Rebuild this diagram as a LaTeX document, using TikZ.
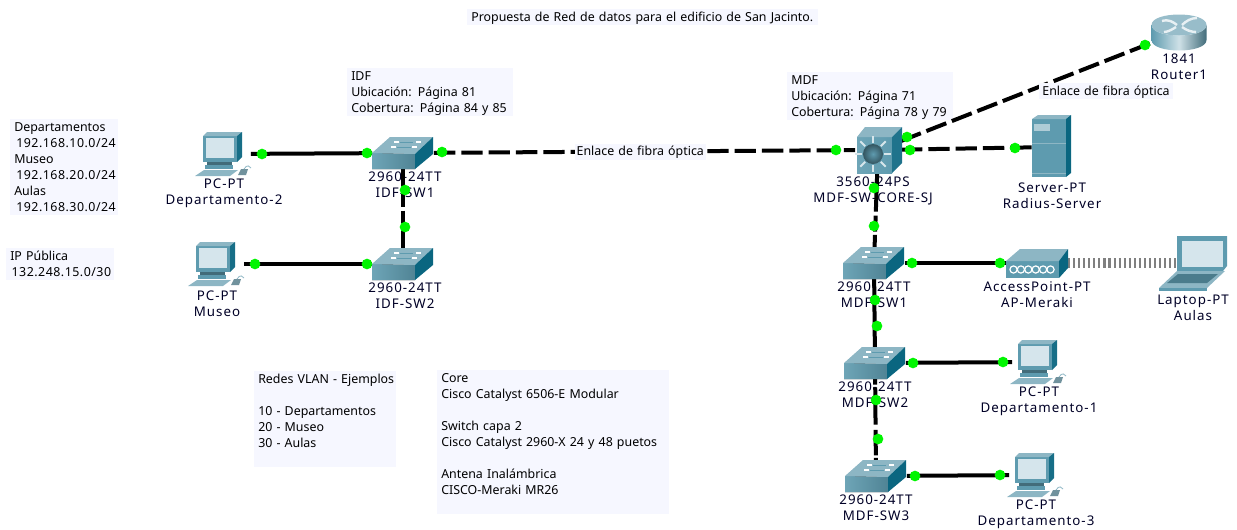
\documentclass[tikz,border=0pt]{standalone}
\usepackage{fontspec}
\setmainfont{Noto Sans}
\newfontfamily\labelfont[LetterSpace=7.5]{Noto Sans}
\newfontfamily\ipfont[LetterSpace=4]{Noto Sans}
\usepackage{xcolor}
\usetikzlibrary{positioning}
\definecolor{notebg}{HTML}{F6F7FF}
\definecolor{teallight}{HTML}{8DB6C4}
\definecolor{tealmid}{HTML}{5E9BAF}
\definecolor{tealdark}{HTML}{0A6680}
\definecolor{screenbg}{HTML}{D5E5EC}
\definecolor{linkgreen}{HTML}{00F500}
\newcommand{\notestrut}{\rule[-2.85pt]{0pt}{12pt}}

\begin{document}
\begin{tikzpicture}[x=0.75pt,y=-0.75pt,
    note/.style={fill=notebg, anchor=north west, align=left, inner xsep=3pt, inner ysep=0pt,
      text width=#1, font=\fontsize{9.3}{12}\selectfont,
      execute at begin node=\notestrut, execute at end node=\notestrut},
    devbox/.style={inner sep=0pt, minimum width=#1, minimum height=22pt},
    swbox/.style={devbox=46pt},
    pcbox/.style={devbox=40pt, minimum height=33pt},
    devlabel/.style={align=center, inner sep=0pt, text=black!85!blue,
      font={\labelfont\fontsize{10}{12}\selectfont}},
    link/.style={line width=3pt, black},
    fibre/.style={link, dash pattern=on 16pt off 4.5pt},
    cross/.style={link, dash pattern=on 29pt off 3pt on 12pt off 2.5pt on 30pt},
    wifi/.style={line width=7.5pt, black!50, dash pattern=on 1.6pt off 2.2pt},
    dot/.style={circle, fill=linkgreen, inner sep=0pt, minimum size=8pt},
    swicon/.pic={
      \fill[left color=tealmid!90!white, right color=tealmid!85!black] (-31,0) -- (12,1) -- (12,16) -- (-31,16) -- cycle;
      \fill[teallight] (-31,0) -- (-13,-16) -- (30,-16) -- (12,1) -- cycle;
      \fill[tealdark] (12,1) -- (30,-16) -- (30,1) -- (12,16) -- cycle;
      \draw[white, line width=1pt] (-9,-11) -- (-4,-11) (13,-11) -- (18,-11) (-12,-6) -- (-7,-6) (9,-6) -- (14,-6);
      \draw[tealmid, line width=.6pt] (-3,-11) -- (10,-11) (-6,-6) -- (8,-6);
    },
    coreicon/.pic={
      \fill[left color=tealmid!90!white, right color=tealmid] (-21,-13) -- (14,-13) -- (14,23) -- (-21,23) -- cycle;
      \fill[teallight] (-21,-13) -- (-13,-23) -- (24,-23) -- (14,-13) -- cycle;
      \fill[tealdark!75!tealmid] (14,-13) -- (24,-23) -- (24,13) -- (14,23) -- cycle;
      \foreach \a in {0,45,...,315}
        \draw[white!75!tealmid, line width=1.5pt] (-5,4) ++(\a:11) -- ++(\a:7);
      \shade[inner color=tealmid, outer color=tealmid!55!black] (-5,4) circle (7.5pt);
    },
    pcicon/.pic={
      \fill[tealmid] (-21,-18) -- (13,-18) -- (13,8) -- (-21,8) -- cycle;
      \fill[teallight] (-21,-18) -- (-17,-22) -- (18,-22) -- (13,-18) -- cycle;
      \fill[tealdark!85!tealmid] (13,-18) -- (18,-22) -- (18,3) -- (13,8) -- cycle;
      \fill[screenbg] (-18,-16) rectangle (10,4);
      \fill[tealmid!70!black] (-17,8) rectangle (8,11);
      \fill[tealmid] (-19,11) rectangle (9,15);
      \fill[teallight] (-29,22) -- (-20,16) -- (14,16) -- (6,22) -- cycle;
      \fill[teallight!80!black] (17,15) -- (24,15) -- (22,21) -- (14,21) -- cycle;
      \draw[teallight, line width=.6pt] (20,15) .. controls (23,10) and (26,12) .. (27,14);
    },
    routericon/.pic={
      \shade[left color=tealmid, right color=tealmid!70!black, middle color=white!70!tealmid]
        (-27.5,-7) -- (-27.5,8) .. controls (-27.5,22) and (27.5,22) .. (27.5,8) -- (27.5,-7) .. controls (27.5,7) and (-27.5,7) .. cycle;
      \fill[teallight!90!white] (-27.5,-7) .. controls (-27.5,-21) and (27.5,-21) .. (27.5,-7) .. controls (27.5,7) and (-27.5,7) .. cycle;
      \draw[white!80!teallight, line width=1.8pt] (-17,-11) .. controls (-10,-13) and (-6,-10) .. (-2,-7)
        (18,-14) .. controls (12,-14) and (7,-11) .. (3,-7)
        (-15,0) .. controls (-11,0) and (-6,-3) .. (-3,-5)
        (17,0) .. controls (12,0) and (7,-2) .. (3,-5);
    },
    servericon/.pic={
      \fill[tealmid] (-20,-28) -- (14,-28) -- (14,30) -- (-20,30) -- cycle;
      \fill[teallight] (-20,-28) -- (-14,-32) -- (19,-32) -- (14,-28) -- cycle;
      \fill[tealdark] (14,-28) -- (19,-32) -- (19,26) -- (14,30) -- cycle;
      \fill[teallight!70!white] (-18,-23) rectangle (-2,-16);
      \draw[teallight, line width=.6pt] (-20,-4) -- (14,-4) (-20,26) -- (14,26);
    },
    apicon/.pic={
      \fill[tealmid] (-31,-2) rectangle (22,15);
      \fill[teallight] (-31,-2) -- (-17,-14) -- (31,-14) -- (22,-2) -- cycle;
      \fill[tealdark] (22,-2) -- (31,-14) -- (31,5) -- (22,15) -- cycle;
      \foreach \i in {0,...,5}
        \draw[white, line width=.9pt] (-23.5+\i*7.4,6.5) circle (2.7pt);
    },
    laptopicon/.pic={
      \fill[tealmid] (-16,-27) -- (34,-27) -- (34,3) -- (30,8) -- (-16,8) -- cycle;
      \fill[screenbg] (-11,-22) rectangle (30,4);
      \fill[teallight] (-34,25) -- (-16,8) -- (32,8) -- (14,25) -- cycle;
      \fill[tealmid!80!black] (-26,20) -- (-15,11) -- (25,11) -- (14,20) -- cycle;
      \fill[tealmid] (-34,25) rectangle (14,28);
    }]

  \useasboundingbox (0,0) rectangle (1237,529);

  % text boxes
  \node[note=257pt] (title) at (467,9) {Propuesta de Red de datos para el edificio de San Jacinto.};
  \node[note=118pt] (idfnote) at (347,68) {IDF\\Ubicación: Página 81\\Cobertura: Página 84 y 85};
  \node[note=118pt] (mdfnote) at (787,72) {MDF\\Ubicación: Página 71\\Cobertura: Página 78 y 79};
  \node[note=75pt] (nets) at (10,119) {Departamentos\\\mbox{\hspace{1.5pt}\ipfont 192.168.10.0/24}\\Museo\\\mbox{\hspace{1.5pt}\ipfont 192.168.20.0/24}\\Aulas\\\mbox{\hspace{1.5pt}\ipfont 192.168.30.0/24}};
  \node[note=75pt] (ip) at (6,248) {IP Pública\\\mbox{\hspace{1pt}\ipfont 132.248.15.0/30}};
  \node[note=100.5pt] (vlan) at (254,371) {\mbox{Redes VLAN - Ejemplos}\\~\\10 - Departamentos\\20 - Museo\\30 - Aulas\\~};
  \node[note=168pt] (models) at (437,370) {Core\\Cisco Catalyst 6506-E Modular\\~\\Switch capa 2\\Cisco Catalyst 2960-X 24 y 48 puetos\\~\\Antena Inalámbrica\\CISCO-Meraki MR26\\~};

  % devices
  \node[pcbox] (pcdep2) at (224,154) {};
  \node[pcbox] (pcmuseo) at (217,264) {};
  \node[swbox] (idfsw1) at (403,153) {};
  \node[swbox] (idfsw2) at (403,264) {};
  \node[devbox=34pt, minimum height=34pt] (core) at (878,150) {};
  \node[devbox=41pt, minimum height=26pt] (router) at (1179,32) {};
  \node[devbox=30pt, minimum height=47pt] (server) at (1052,147) {};
  \node[swbox] (mdfsw1) at (874,263) {};
  \node[swbox] (mdfsw2) at (875,363) {};
  \node[swbox] (mdfsw3) at (876,476) {};
  \node[devbox=46pt] (ap) at (1037,263) {};
  \node[devbox=50pt, minimum height=41pt] (laptop) at (1193,263) {};
  \node[pcbox] (pcdep1) at (1039,362) {};
  \node[pcbox] (pcdep3) at (1036,475) {};

  % labels
  \node[devlabel, below of=pcdep2, node distance=29.2pt] (pcdep2txt) {PC-PT\\Departamento-2};
  \node[devlabel, below of=pcmuseo, node distance=30pt] (pcmuseotxt) {PC-PT\\Museo};
  \node[devlabel, below of=idfsw1, node distance=24pt, xshift=1.5pt] (idfsw1txt) {2960-24TT\\IDF-SW1};
  \node[devlabel, below of=idfsw2, node distance=24pt, xshift=1.5pt] (idfsw2txt) {2960-24TT\\IDF-SW2};
  \node[devlabel, below of=core, node distance=30.5pt, xshift=-3.7pt] (coretxt) {3560-24PS\\MDF-SW-CORE-SJ};
  \node[devlabel, below of=router, node distance=26.2pt] (routertxt) {1841\\Router1};
  \node[devlabel, below of=server, node distance=36.7pt] (servertxt) {Server-PT\\Radius-Server};
  \node[devlabel, below of=mdfsw1, node distance=24pt] (mdfsw1txt) {2960-24TT\\MDF-SW1};
  \node[devlabel, below of=mdfsw2, node distance=24pt] (mdfsw2txt) {2960-24TT\\MDF-SW2};
  \node[devlabel, below of=mdfsw3, node distance=24pt] (mdfsw3txt) {2960-24TT\\MDF-SW3};
  \node[devlabel, below of=ap, node distance=24pt] (aptxt) {AccessPoint-PT\\AP-Meraki};
  \node[devlabel, below of=laptop, node distance=33.7pt] (laptoptxt) {Laptop-PT\\Aulas};
  \node[devlabel, below of=pcdep1, node distance=29.5pt] (pcdep1txt) {PC-PT\\Departamento-1};
  \node[devlabel, below of=pcdep3, node distance=29.2pt] (pcdep3txt) {PC-PT\\Departamento-3};

  % connections
  \draw[link] (pcdep2) -- (idfsw1);
  \draw[link] (pcmuseo) -- (idfsw2);
  \draw[cross] (idfsw1) -- (idfsw2);
  \draw[fibre] (idfsw1) -- node[note=98pt, pos=.49, anchor=center, inner xsep=0pt, align=center] (fibretxt) {Enlace de fibra óptica} (core);
  \draw[fibre] (core) -- (router);
  \draw[fibre] (core) -- (server);
  \draw[cross] (core) -- (mdfsw1);
  \draw[link] (mdfsw1) -- (mdfsw2);
  \draw[cross, dash pattern=on 5pt off 2pt on 28pt off 4pt on 19pt off 2pt on 9pt] (mdfsw2) -- (mdfsw3);
  \draw[link] (mdfsw1) -- (ap);
  \draw[link] (mdfsw2) -- (pcdep1);
  \draw[link] (mdfsw3) -- (pcdep3);
  \draw[wifi] (ap) -- (laptop.center);

  \node[note=98pt, anchor=center, inner xsep=1pt, align=center] (fibretxt2) at (1106,91) {Enlace de fibra óptica};

  % icons
  \pic at (pcdep2) {pcicon};
  \pic at (pcmuseo) {pcicon};
  \pic at (pcdep1) {pcicon};
  \pic at (pcdep3) {pcicon};
  \foreach \sw in {idfsw1,idfsw2,mdfsw1,mdfsw2,mdfsw3}
    \pic at (\sw) {swicon};
  \pic at (core) {coreicon};
  \pic at (router) {routericon};
  \pic at (server) {servericon};
  \pic at (ap) {apicon};
  \pic at (laptop) {laptopicon};

  % link lights
  \foreach \x/\y [count=\i] in {262/154,367/153,442/152,405/190,405/227,255/264,367/264,
      836/150,907/137,910/150,1015/148,1145/45,874/188,874/226,
      912/263,1000/263,875/300,877/326,913/363,1003/362,876/400,878/439,915/476,1000/475}
    \node[dot] (light\i) at (\x,\y) {};
\end{tikzpicture}
\end{document}
